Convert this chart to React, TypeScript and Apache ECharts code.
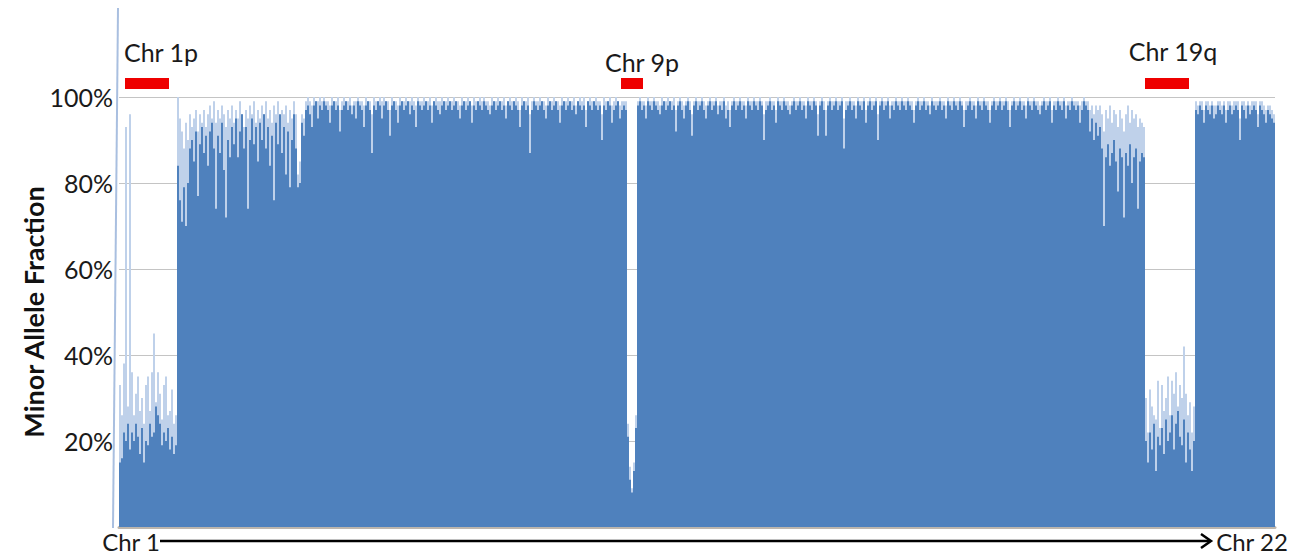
import React, { useEffect, useRef } from "react";
import * as echarts from "echarts";

// Minor allele fraction (%) along the genome, read region by region.
// "Hi" = light upper envelope of the dense SNP bars, "Lo" = solid lower body.
const r1Hi = [33,26,38,93,28,96,36,26,31,35,27,30,24,33,35,27,36,45,29,36,31,25,33,35,26,27,32,24,26];
const r1Lo = [15,16,22,20,24,18,22,20,24,21,17,23,15,20,19,24,21,22,28,26,24,19,22,20,23,18,21,17,19];

const r2Hi = [100,95,92,88,94,90,96,93,95,97,92,96,94,97,93,96,98,95,99,94,97,95,98,96,93,97,95,98,94,97,95,99,96,93,97,95,98,96,99,94,97,95,98,96,99,95,97,94,98,96,99,95,97,96,98,94,97,95,99,96,82,85];
const r2Lo = [84,76,71,79,70,80,88,90,85,92,77,89,93,87,91,84,92,94,88,74,91,87,94,83,72,90,86,93,89,95,86,92,96,88,93,74,90,95,89,93,85,94,90,96,88,93,84,91,76,94,89,96,87,93,82,92,79,90,96,88,79,80];

const r3Hi = [
  96,95,99,100,99,98,100,99,99,100,
  99,100,99,99,98,100,99,99,100,97,
  99,100,99,99,100,98,99,99,100,99,
  99,98,100,99,99,96,100,99,99,100,
  99,100,99,99,97,100,99,99,98,100,
  99,99,100,99,99,100,99,98,100,99,
  99,100,99,99,100,98,99,100,99,99,
  100,99,99,100,99,99,100,99,99,98,
  100,99,99,100,99,98,100,99,99,100,
  99,100,99,99,98,100,99,99,100,99,
  99,100,98,99,100,99,99,100,99,97,
  100,99,99,100,96,99,100,99,99,100,
  99,99,98,100,99,99,100,99,99,98,
  100,99,99,100,99,99,100,98,99,100,
  99,100,97,99,100,99,99,100,99,99,
  96,100,99,99,100,98,99,100,99,98,
  99,99
];
const r3Lo = [
  94,91,97,98,96,93,98,99,95,98,
  97,99,98,97,94,98,99,97,98,92,
  97,98,99,97,98,96,98,95,99,98,
  97,93,98,99,97,87,98,97,99,98,
  95,98,99,97,91,98,99,97,94,98,
  99,97,98,99,96,98,97,93,99,98,
  97,98,99,97,98,94,99,98,97,96,
  98,99,97,98,99,97,98,99,97,95,
  98,99,97,98,99,94,98,97,99,98,
  97,99,98,97,96,98,99,97,98,99,
  97,98,95,99,98,97,99,98,97,93,
  98,99,97,98,87,97,99,98,97,98,
  99,97,95,98,99,97,98,99,97,94,
  98,99,97,98,99,97,98,96,99,98,
  97,98,93,99,98,97,99,98,97,98,
  90,98,97,99,98,94,97,98,99,95,
  97,98
];

const r4Hi = [99,24,14,9,15,26];
const r4Lo = [97,21,11,8,13,23];

const r5Hi = [
  99,100,99,99,98,100,99,99,100,99,
  99,98,100,99,99,100,99,99,100,97,
  99,100,99,98,99,100,99,96,99,100,
  99,99,100,99,98,99,100,99,99,100,
  98,99,99,100,98,99,97,99,100,99,
  99,100,99,99,98,100,99,99,100,99,
  99,100,99,96,99,99,100,99,99,97,
  100,99,99,100,99,99,98,99,100,99,
  99,100,99,99,98,100,99,99,100,99,
  96,99,100,99,97,99,100,99,99,100,
  99,99,100,95,99,99,100,99,99,98,
  100,99,99,100,97,99,100,99,99,100,
  96,99,100,99,99,100,98,99,99,100,
  99,99,100,99,99,100,99,99,97,99,
  100,99,99,100,99,99,98,100,99,99,
  99,100,99,99,98,100,99,99,100,99,
  99,100,99,97,99,99,100,99,99,98,
  100,99,99,100,99,99,97,99,100,99,
  99,100,99,99,100,99,97,99,100,99,
  99,100,99,99,98,100,99,99,100,99,
  99,98,99,100,99,99,100,97,99,99,
  100,99,99,100,98,99,99,100,99,99,
  99,98,99,100,99,99,97,98,96,98,
  97,98
];
const r5Lo = [
  98,99,97,98,95,99,98,97,99,98,
  97,96,98,99,97,98,99,97,98,92,
  98,99,97,95,98,99,97,91,98,99,
  97,98,99,97,95,98,99,97,98,99,
  96,98,97,99,95,97,93,98,99,97,
  98,99,97,98,95,99,98,97,99,98,
  97,99,98,90,97,98,99,97,98,94,
  99,98,97,99,98,97,96,98,99,97,
  98,99,97,98,95,99,98,97,99,98,
  91,98,99,97,91,98,99,97,98,99,
  97,98,99,88,97,98,99,97,98,95,
  99,98,97,99,94,98,99,97,98,99,
  90,98,99,97,98,99,95,98,97,99,
  98,97,99,98,97,99,98,97,94,98,
  99,97,98,99,97,98,96,99,98,97,
  98,99,97,98,95,99,98,97,99,98,
  97,99,98,93,97,98,99,97,98,95,
  99,98,97,99,98,97,94,98,99,97,
  98,99,97,98,99,97,93,98,99,97,
  98,99,97,98,95,99,98,97,99,98,
  97,96,98,99,97,98,99,94,98,97,
  99,98,97,99,95,98,97,99,98,97,
  98,94,97,99,98,97,92,95,90,94,
  91,93
];

const r6Hi = [96,92,97,95,98,94,97,96,93,97,95,92,96,98,94,97,95,96,93,95,94,93];
const r6Lo = [88,70,86,89,84,87,90,85,78,88,86,72,87,84,89,80,86,88,74,85,87,86];

const r7Hi = [30,22,32,28,26,25,34,23,33,27,30,35,26,34,31,36,28,33,30,42,31,26,29,22,28];
const r7Lo = [20,15,22,18,24,13,21,19,23,17,25,20,22,26,18,24,27,21,19,25,15,22,18,13,20];

const r8Hi = [
  99,98,99,99,97,99,99,98,99,98,
  98,99,99,98,99,97,99,99,98,99,
  99,99,95,99,99,98,99,98,99,99,
  99,96,99,99,98,97,98,98,97,96
];
const r8Lo = [
  97,96,98,97,94,98,97,96,98,95,
  96,98,97,96,98,94,97,98,96,97,
  98,97,90,98,97,95,98,96,97,98,
  97,93,98,97,96,94,97,96,95,94
];

const yTicks = [0, 20, 40, 60, 80, 100];
const regionLabels = ["Chr 1p", "Chr 9p", "Chr 19q"];
const axisEnds = ["Chr 1", "Chr 22"];

const upper = [...r1Hi, ...r2Hi, ...r3Hi, ...r4Hi, ...r5Hi, ...r6Hi, ...r7Hi, ...r8Hi];
const lower = [...r1Lo, ...r2Lo, ...r3Lo, ...r4Lo, ...r5Lo, ...r6Lo, ...r7Lo, ...r8Lo];
const positions = upper.map((_, i) => String(i));

const FONT = "Lato, 'Open Sans', sans-serif";

const centered = {
  align: "center",
  verticalAlign: "middle",
  textAlign: "center",
  textVerticalAlign: "middle",
};

export default function App() {
  const ref = useRef<HTMLDivElement>(null);
  useEffect(() => {
    if (!ref.current) return;
    const chart = echarts.init(ref.current, undefined, { renderer: "svg" });
    chart.setOption({
      animation: false,
      backgroundColor: "#ffffff",
      grid: { left: 119, right: 33, top: 97, bottom: 29, containLabel: false },
      xAxis: {
        type: "category",
        data: positions,
        boundaryGap: true,
        axisLine: { show: true, lineStyle: { color: "#bdb6ad", width: 3 } },
        axisTick: { show: false },
        axisLabel: { show: false },
        splitLine: { show: false },
      },
      yAxis: {
        type: "value",
        min: yTicks[0],
        max: yTicks[yTicks.length - 1],
        interval: 20,
        axisLine: { show: false },
        axisTick: { show: false },
        axisLabel: {
          formatter: (v: number) => (v === 0 ? "" : v + "%"),
          fontSize: 25,
          fontFamily: FONT,
          color: "#1a1a1a",
          margin: 6,
        },
        splitLine: { lineStyle: { color: "#c4c4c4", width: 1 } },
      },
      series: [
        {
          type: "bar",
          data: upper,
          itemStyle: { color: "#bfd1ea" },
          barCategoryGap: "0%",
          barGap: "-100%",
          silent: true,
        },
        {
          type: "bar",
          data: lower,
          itemStyle: { color: "#4f81bd" },
          barCategoryGap: "0%",
          barGap: "-100%",
          silent: true,
        },
      ],
      graphic: [
        {
          type: "line",
          shape: { x1: 118, y1: 8, x2: 113, y2: 528 },
          style: { stroke: "#a9bfe0", lineWidth: 2 },
        },
        {
          type: "text",
          x: 33,
          y: 312,
          rotation: Math.PI / 2,
          style: {
            text: "Minor Allele Fraction",
            font: `bold 27px ${FONT}`,
            fill: "#111111",
            ...centered,
          },
        },
        { type: "rect", shape: { x: 125, y: 78, width: 44, height: 11 }, style: { fill: "#ee0000" } },
        { type: "rect", shape: { x: 621, y: 78, width: 22, height: 11 }, style: { fill: "#ee0000" } },
        { type: "rect", shape: { x: 1145, y: 78, width: 44, height: 11 }, style: { fill: "#ee0000" } },
        ...[
          [161, 52],
          [642, 62],
          [1173, 51],
        ].map(([x, y], i) => ({
          type: "text",
          x,
          y,
          style: {
            text: regionLabels[i],
            font: `25px ${FONT}`,
            fill: "#1a1a1a",
            ...centered,
          },
        })),
        {
          type: "text",
          x: 131,
          y: 541,
          style: { text: axisEnds[0], font: `24px ${FONT}`, fill: "#1a1a1a", ...centered },
        },
        {
          type: "text",
          x: 1252,
          y: 541,
          style: { text: axisEnds[1], font: `24px ${FONT}`, fill: "#1a1a1a", ...centered },
        },
        {
          type: "line",
          shape: { x1: 160, y1: 541, x2: 1209, y2: 541 },
          style: { stroke: "#000000", lineWidth: 2.5 },
        },
        {
          type: "polyline",
          shape: { points: [[1201, 534], [1211, 541], [1201, 548]] },
          style: { stroke: "#000000", lineWidth: 2.5, fill: "none" },
        },
      ],
    });
    return () => chart.dispose();
  }, []);
  return (
    <div
      ref={ref}
      style={{ position: "fixed", left: 0, top: 0, width: 1308, height: 556 }}
    />
  );
}
